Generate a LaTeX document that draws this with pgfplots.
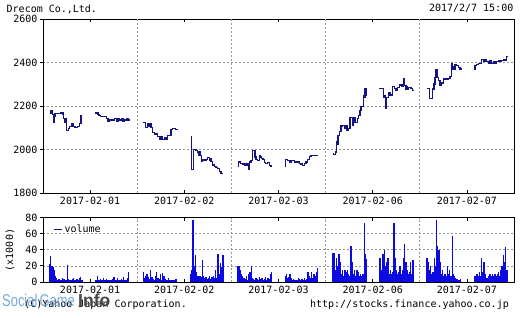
\documentclass[border=0pt]{standalone}
\usepackage{pgfplots}
\pgfplotsset{compat=1.18}
\usepackage{fontspec}
\setmainfont{DejaVu Sans Mono}
\newfontfamily\logofont{Liberation Sans}
\definecolor{navy}{RGB}{20,20,130}
\definecolor{barblue}{RGB}{10,10,225}
\definecolor{gridgray}{RGB}{150,150,150}
\definecolor{logoblue}{RGB}{105,160,215}
\definecolor{logogray}{RGB}{70,70,70}
\pgfplotsset{
  base/.style={
    scale only axis, width=471bp, xmin=0, xmax=471,
    axis line style={black, line width=0.8bp},
    xtick={47.1,141.3,235.5,329.7,423.9},
    xticklabels={2017-02-01,2017-02-02,2017-02-03,2017-02-06,2017-02-07},
    tick align=inside, major tick length=3bp,
    tick style={black, line width=0.8bp},
    xtick pos=both, ytick pos=left,
    ytick style={xshift=-3bp},
    ymajorgrids,
    grid style={gridgray, line width=0.7bp, dash pattern=on 2bp off 2bp},
    extra x ticks={94.2,188.4,282.6,376.8},
    extra x tick labels={},
    extra x tick style={grid=major, major tick length=0pt},
    tick label style={font=\fontsize{10bp}{12bp}\selectfont, text=black},
    /pgf/number format/assume math mode=true,
    /pgf/number format/set thousands separator={},
    yticklabel style={xshift=-2bp},
    xticklabel style={yshift=-0.5bp},
    clip=false,
  }
}
\begin{document}
\begin{tikzpicture}[x=1bp,y=1bp]
\path[use as bounding box] (0,0) rectangle (521,-317);
\begin{axis}[base, at={(43bp,-193bp)}, anchor=south west, height=174bp,
  ymin=1800, ymax=2600, ytick={1800,2000,2200,2400,2600}]
\addplot[const plot, navy, line width=1.2bp] coordinates {(7.3,2179)(8,2168)(8.5,2179)(9.3,2161)(11,2126)(11.5,2150)(12,2164)(17.3,2168)(20,2161)(20.7,2141)(22,2126)(22.5,2141)(23.3,2088)(25.3,2098)(26.7,2106)(28.7,2118)(30,2106)(32,2103)(34.7,2106)(36.7,2118)(38,2156)(39.3,2156)};
\addplot[const plot, navy, line width=1.2bp] coordinates {(52.3,2168)(55,2161)(56,2156)(57.3,2152)(63.3,2141)(65,2130)(66.7,2136)(70,2133)(71.7,2141)(73.3,2130)(75,2141)(76.7,2136)(78.3,2141)(80,2130)(81.7,2136)(83.3,2141)(85,2136)(86.7,2136)};
\addplot[const plot, navy, line width=1.2bp] coordinates {(100.3,2126)(102.3,2103)(104.7,2118)(105.7,2108)(106.3,2118)(108,2103)(109.7,2080)(111.3,2070)(113,2073)(114.7,2058)(116.3,2045)(118,2058)(119.7,2045)(121.3,2055)(123,2045)(124.7,2065)(128,2091)(129.7,2095)(132.3,2091)(134.7,2091)};
\addplot[const plot, navy, line width=1.2bp] coordinates {(148,2061)(148.3,1909)(150.3,2000)(153,1997)(154.7,1989)(155.5,1974)(156.3,1989)(157,1974)(158.7,1944)(159.7,1952)(163,1955)(164.7,1964)(166.3,1949)(167,1960)(168,1944)(169.7,1929)(171.3,1921)(173,1918)(174.7,1914)(176.3,1899)(178,1888)(180.3,1888)};
\addplot[const plot, navy, line width=1.2bp] coordinates {(195.3,1924)(195.8,1943)(197.3,1936)(199.7,1933)(202,1928)(204,1936)(205.3,1908)(206.3,1943)(208,1948)(209.7,1994)(212,1966)(213,1954)(214.7,1948)(216.3,1974)(217.3,1966)(218.7,1959)(220,1954)(221.3,1939)(222.7,1936)(224.7,1939)(226.3,1928)(228,1924)(228.7,1924)};
\addplot[const plot, navy, line width=1.2bp] coordinates {(242.3,1921)(242.8,1954)(244.7,1948)(246.3,1943)(248,1948)(251.3,1943)(253,1940)(254.7,1943)(256.3,1936)(258,1933)(259.7,1928)(261.3,1936)(263,1943)(264.7,1954)(266.3,1969)(268,1974)(275.3,1974)};
\addplot[const plot, navy, line width=1.2bp] coordinates {(290.3,1982)(290.8,1977)(292.3,1989)(293.7,2035)(294.7,2023)(295,2065)(295.3,2023)(295.7,2065)(296.3,2081)(298,2108)(299.7,2111)(301.3,2099)(303,2108)(304,2088)(305.7,2096)(307,2149)(309.7,2111)(310.3,2149)(312,2126)(314.7,2141)(315.7,2157)(317,2179)(317.3,2164)(317.7,2179)(318,2199)(320.3,2248)(321.3,2278)(321.7,2240)(322,2278)(322.3,2248)(323,2281)(323.7,2281)};
\addplot[const plot, navy, line width=1.2bp] coordinates {(336.3,2281)(340.3,2240)(341.3,2248)(342.3,2187)(342.7,2233)(343,2187)(343.7,2240)(345.7,2263)(347,2251)(349.7,2290)(351.3,2281)(353,2271)(354.7,2286)(356.3,2297)(359,2290)(360.3,2324)(361.7,2294)(363,2278)(363.7,2290)(364.7,2278)(365.7,2286)(368,2281)(369.7,2271)(370.7,2271)};
\addplot[const plot, navy, line width=1.2bp] coordinates {(384.3,2281)(386.3,2236)(387,2233)(389.7,2278)(390.3,2301)(391,2278)(391.7,2301)(392,2332)(393,2367)(394.3,2332)(395.3,2316)(397,2297)(398.7,2306)(400.3,2327)(402,2321)(403.7,2324)(405.3,2327)(407,2336)(408.7,2397)(409.7,2370)(410.3,2379)(411,2367)(412,2392)(413.7,2385)(415.3,2377)(417,2370)(418.7,2370)};
\addplot[const plot, navy, line width=1.2bp] coordinates {(431.3,2370)(432,2385)(433.7,2392)(435.3,2397)(438.7,2415)(440.3,2403)(442,2415)(443.7,2403)(445.3,2397)(447,2408)(448.7,2397)(450.3,2403)(452,2397)(453.7,2403)(455.3,2408)(457,2403)(458.7,2408)(460.3,2415)(462,2412)(463.7,2427)(464.7,2427)};
\end{axis}
\begin{axis}[base, at={(43bp,-282bp)}, anchor=south west, height=64.5bp,
  ymin=0, ymax=80, ytick={0,20,40,60,80},
  legend style={at={(0.022,0.92)}, anchor=north west, draw=none, fill=none,
    font=\fontsize{10bp}{12bp}\selectfont, inner sep=0pt},
  legend image code/.code={\draw[navy, line width=1bp] (0bp,0bp) -- (8bp,0bp);}]
\addplot[ycomb, barblue, line width=1.3bp] coordinates {
(6.5,22)(7.7,32)(8.9,20)(10.1,18)(11.3,15)(12.5,8)(13.7,5)(14.9,3)(16.1,4)(17.3,2)(18.5,3)(19.7,5)(20.9,4)(22.1,3)(23.3,2)(24.5,21)(25.7,4)(26.9,3)(28.1,2)(29.3,4)(30.5,5)(31.7,3)(32.9,2)(34.1,4)(35.3,3)(36.5,5)(37.7,6)(38.9,3)
(53,3)(54.2,8)(55.4,2)(56.6,3)(57.8,4)(59,2)(60.2,5)(61.4,3)(62.6,2)(63.8,4)(65,3)(66.2,2)(67.4,3)(68.6,2)(69.8,4)(71,6)(72.2,3)(73.4,2)(74.6,5)(75.8,3)(77,2)(78.2,4)(79.4,3)(80.6,6)(81.8,2)(83,3)(84.2,5)(85.4,13)
(100.5,12)(101.7,5)(102.9,8)(104.1,10)(105.3,6)(106.5,4)(107.7,15)(108.9,6)(110.1,4)(111.3,3)(112.5,8)(113.7,12)(114.9,5)(116.1,4)(117.3,10)(118.5,3)(119.7,11)(120.9,7)(122.1,4)(123.3,3)(124.5,2)(125.7,5)(126.9,3)(128.1,2)(129.3,2)(130.5,3)(131.7,2)(132.9,4)
(147.5,10)(148.7,15)(149.9,77)(151.1,20)(152.3,34)(153.5,12)(154.7,8)(155.9,7)(157.1,8)(158.3,6)(159.5,27)(160.7,8)(161.9,5)(163.1,6)(164.3,4)(165.5,5)(166.7,7)(167.9,4)(169.1,6)(170.3,8)(171.5,5)(172.7,15)(173.9,5)(175.1,35)(176.3,10)(177.5,24)(178.7,18)(179.9,34)
(195,20)(196.2,20)(197.4,15)(198.6,10)(199.8,8)(201,5)(202.2,4)(203.4,8)(204.6,3)(205.8,10)(207,12)(208.2,20)(209.4,5)(210.6,4)(211.8,3)(213,5)(214.2,4)(215.4,3)(216.6,6)(217.8,4)(219,5)(220.2,3)(221.4,4)(222.6,6)(223.8,3)(225,5)(226.2,4)(227.4,10)(228.6,13)
(242.3,8)(243.5,10)(244.7,5)(245.9,6)(247.1,10)(248.3,5)(249.5,3)(250.7,4)(251.9,3)(253.1,2)(254.3,3)(255.5,5)(256.7,4)(257.9,3)(259.1,4)(260.3,3)(261.5,5)(262.7,3)(263.9,4)(265.1,12)(266.3,8)(267.5,5)(268.7,12)(269.9,5)(271.1,10)(272.3,7)(273.5,12)(274.7,17)
(290,36)(291.2,36)(292.4,15)(293.6,30)(294.8,20)(296,35)(297.2,25)(298.4,10)(299.6,15)(300.8,8)(302,15)(303.2,12)(304.4,15)(305.6,10)(306.8,8)(308,45)(309.2,25)(310.4,10)(311.6,15)(312.8,8)(314,15)(315.2,12)(316.4,8)(317.6,10)(318.8,8)(320,10)(321.2,73)(322.4,35)(323.6,28)
(336.5,30)(337.7,30)(338.9,15)(340.1,35)(341.3,40)(342.5,20)(343.7,25)(344.9,30)(346.1,10)(347.3,15)(348.5,10)(349.7,12)(350.9,73)(352.1,30)(353.3,15)(354.5,10)(355.7,12)(356.9,20)(358.1,10)(359.3,15)(360.5,30)(361.7,47)(362.9,25)(364.1,15)(365.3,10)(366.5,12)(367.7,25)(368.9,10)(370.1,27)
(384,30)(385.2,25)(386.4,15)(387.6,20)(388.8,10)(390,12)(391.2,30)(392.4,20)(393.6,77)(394.8,45)(396,40)(397.2,25)(398.4,10)(399.6,15)(400.8,8)(402,10)(403.2,8)(404.4,20)(405.6,10)(406.8,15)(408,8)(409.2,57)(410.4,10)(411.6,8)(412.8,5)(414,4)(415.2,3)(416.4,3)(417.6,4)
(431.5,8)(432.7,7)(433.9,10)(435.1,8)(436.3,12)(437.5,8)(438.7,30)(439.9,12)(441.1,25)(442.3,10)(443.5,5)(444.7,5)(445.9,8)(447.1,10)(448.3,8)(449.5,10)(450.7,8)(451.9,10)(453.1,8)(454.3,10)(455.5,12)(456.7,8)(457.9,15)(459.1,20)(460.3,34)(461.5,25)(462.7,43)(463.9,15)
};
\addlegendentry{volume}
\end{axis}
\node[anchor=base west, inner sep=0pt, font=\fontsize{10bp}{12bp}\selectfont] at (6.5,-12.5) {Drecom Co.,Ltd.};
\node[anchor=base east, inner sep=0pt, font=\fontsize{10bp}{12bp}\selectfont] at (513.5,-11.7) {2017/2/7 15:00};
\node[rotate=90, inner sep=0pt, font=\fontsize{10bp}{12bp}\selectfont] at (10,-250) {(x1000)};
\node[anchor=base east, inner sep=0pt, font=\fontsize{10bp}{12bp}\selectfont] at (509,-307.5) {http://stocks.finance.yahoo.co.jp};
\node[anchor=base east, inner sep=0pt, font=\fontsize{10bp}{12bp}\selectfont] at (187,-307.5) {(C)Yahoo Japan Corporation.};
\node[anchor=base west, inner sep=0pt, text=logoblue, opacity=0.9, font=\logofont\fontsize{17bp}{18bp}\selectfont] at (2,-306.5) {\scalebox{0.76}[1]{Social\hspace{3bp}Game}};
\node[anchor=base west, inner sep=0pt, text=logogray, font=\logofont\bfseries\fontsize{17.5bp}{18bp}\selectfont] at (78,-306.5) {Info};
\end{tikzpicture}
\end{document}
